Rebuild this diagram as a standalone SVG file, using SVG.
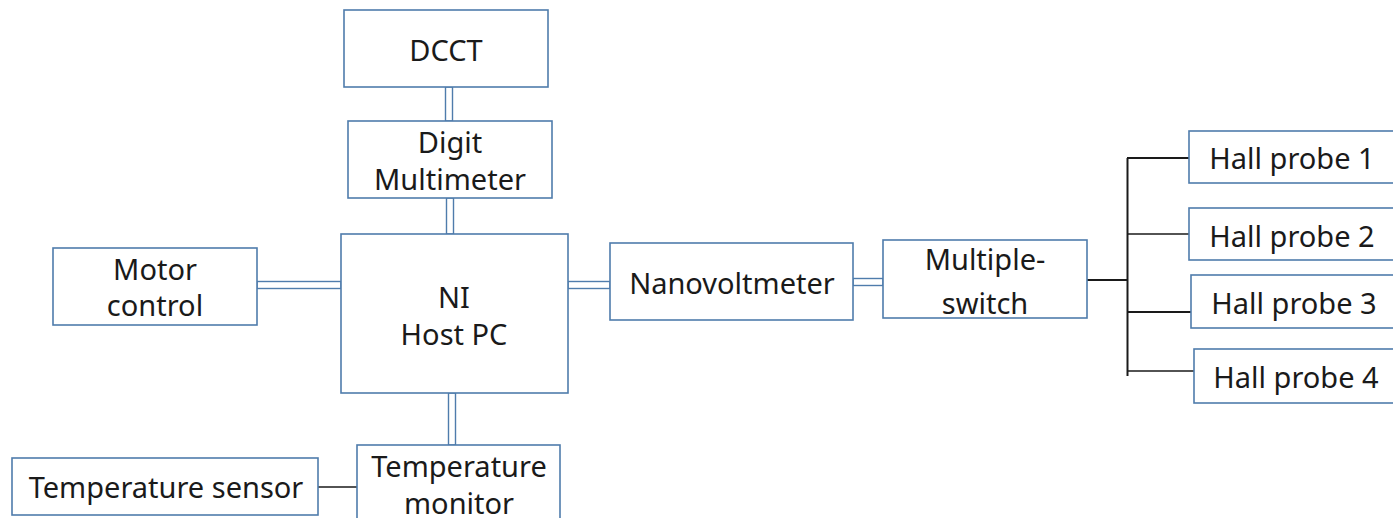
<svg xmlns="http://www.w3.org/2000/svg" width="1393" height="518" viewBox="0 0 1393 518">
<style>
.box{fill:#fff;stroke:#4f7cac;stroke-width:1.6}
.dbl{fill:#fff;stroke:#4f7cac;stroke-width:1.4}
.ln{stroke:#1a1a1a;fill:none}
text{font-family:"Noto Sans","Open Sans",sans-serif;font-size:29px;fill:#1a1a1a;text-anchor:middle}
</style>
<rect width="1393" height="518" fill="#fff"/>
<g id="connectors">
<rect class="dbl" x="445.5" y="87" width="7" height="34"/>
<rect class="dbl" x="446.5" y="198" width="7" height="36"/>
<rect class="dbl" x="448.5" y="393" width="7" height="52"/>
<rect class="dbl" x="257" y="281.5" width="84" height="7"/>
<rect class="dbl" x="568" y="281.5" width="42" height="7"/>
<rect class="dbl" x="853" y="278.5" width="30" height="7"/>
<line class="ln" x1="318" y1="487" x2="357" y2="487" stroke-width="1.5"/>
<line class="ln" x1="1087" y1="280" x2="1128" y2="280" stroke-width="2.2"/>
<line class="ln" x1="1127.5" y1="158" x2="1127.5" y2="376" stroke-width="2"/>
<line class="ln" x1="1127" y1="158" x2="1189" y2="158" stroke-width="2.2"/>
<line class="ln" x1="1127" y1="234" x2="1189" y2="234" stroke-width="1.4"/>
<line class="ln" x1="1127" y1="312" x2="1191" y2="312" stroke-width="2.2"/>
<line class="ln" x1="1127" y1="371" x2="1194" y2="371" stroke-width="1.4"/>
</g>
<g id="dcct"><rect class="box" x="344" y="10" width="204" height="77"/><text x="446" y="61">DCCT</text></g>
<g id="digit-multimeter"><rect class="box" x="348" y="121" width="204" height="77"/><text x="450" y="153">Digit</text><text x="450" y="190">Multimeter</text></g>
<g id="ni-host-pc"><rect class="box" x="341" y="234" width="227" height="159"/><text x="454" y="308">NI</text><text x="454" y="345">Host PC</text></g>
<g id="motor-control"><rect class="box" x="53" y="248" width="204" height="77"/><text x="155" y="280">Motor</text><text x="155" y="316">control</text></g>
<g id="nanovoltmeter"><rect class="box" x="610" y="243" width="243" height="77"/><text x="732" y="294">Nanovoltmeter</text></g>
<g id="multiple-switch"><rect class="box" x="883" y="240" width="204" height="78"/><text x="985" y="270">Multiple-</text><text x="985" y="314">switch</text></g>
<g id="hall-probe-1"><rect class="box" x="1189" y="131" width="210" height="52"/><text x="1292" y="169">Hall probe 1</text></g>
<g id="hall-probe-2"><rect class="box" x="1189" y="208" width="210" height="52"/><text x="1292" y="247">Hall probe 2</text></g>
<g id="hall-probe-3"><rect class="box" x="1191" y="275" width="210" height="53"/><text x="1294" y="314">Hall probe 3</text></g>
<g id="hall-probe-4"><rect class="box" x="1194" y="349" width="210" height="54"/><text x="1296" y="388">Hall probe 4</text></g>
<g id="temperature-sensor"><rect class="box" x="12" y="458" width="306" height="57"/><text x="166" y="498">Temperature sensor</text></g>
<g id="temperature-monitor"><rect class="box" x="357" y="445" width="203" height="80"/><text x="459" y="477">Temperature</text><text x="459" y="514">monitor</text></g>
</svg>
